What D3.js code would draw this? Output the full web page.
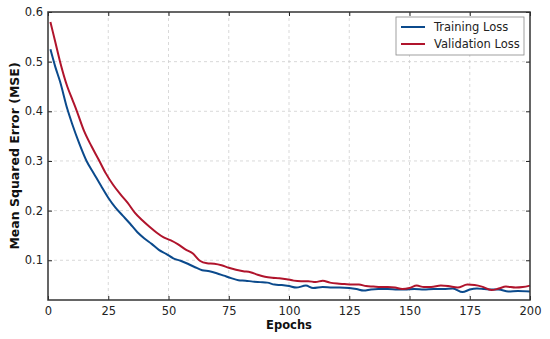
<!DOCTYPE html>
<html>
<head>
<meta charset="utf-8">
<script src="https://cdn.jsdelivr.net/npm/d3@7"></script>
<style>
  html, body { margin: 0; padding: 0; background: #fff; }
  text { font-family: "DejaVu Sans", sans-serif; }
</style>
</head>
<body>
<div id="chart"></div>
<script>
const trainEpochs = [1, 3, 5, 8, 10, 13, 16, 19, 22, 25, 28, 31, 34, 37, 40, 43, 46, 49, 52, 55, 58, 61, 64, 67, 70, 73, 76, 79, 82, 85, 88, 91, 94, 97, 100, 103, 107, 110, 114, 118, 121, 125, 128, 131, 134, 137, 141, 145, 148, 152, 156, 160, 164, 168, 172, 175, 178, 181, 184, 187, 191, 195, 200];
const trainLoss = [0.525, 0.49, 0.46, 0.405, 0.375, 0.335, 0.30, 0.275, 0.25, 0.226, 0.206, 0.19, 0.174, 0.157, 0.144, 0.133, 0.121, 0.113, 0.104, 0.099, 0.093, 0.086, 0.080, 0.078, 0.074, 0.069, 0.064, 0.060, 0.059, 0.057, 0.056, 0.055, 0.051, 0.050, 0.048, 0.045, 0.049, 0.044, 0.046, 0.045, 0.045, 0.044, 0.042, 0.039, 0.041, 0.042, 0.042, 0.041, 0.041, 0.042, 0.041, 0.042, 0.042, 0.043, 0.036, 0.041, 0.043, 0.042, 0.041, 0.041, 0.037, 0.038, 0.037];

const valEpochs = [1, 3, 5, 8, 10, 12, 15, 18, 21, 24, 27, 30, 33, 36, 39, 42, 45, 48, 51, 54, 57, 60, 63, 66, 69, 72, 75, 78, 81, 84, 87, 90, 93, 96, 99, 102, 105, 108, 111, 114, 117, 120, 123, 126, 129, 132, 135, 138, 141, 144, 147, 150, 153, 156, 159, 163, 166, 170, 174, 177, 180, 184, 187, 190, 194, 197, 200];
const valLoss = [0.58, 0.54, 0.50, 0.45, 0.425, 0.40, 0.36, 0.33, 0.303, 0.275, 0.252, 0.233, 0.216, 0.196, 0.181, 0.168, 0.156, 0.146, 0.14, 0.132, 0.122, 0.114, 0.099, 0.094, 0.093, 0.090, 0.085, 0.081, 0.078, 0.076, 0.071, 0.067, 0.065, 0.064, 0.062, 0.059, 0.058, 0.058, 0.056, 0.059, 0.055, 0.053, 0.052, 0.051, 0.051, 0.048, 0.047, 0.046, 0.046, 0.045, 0.042, 0.044, 0.049, 0.046, 0.046, 0.049, 0.048, 0.045, 0.051, 0.050, 0.047, 0.040, 0.043, 0.047, 0.045, 0.046, 0.049];

const xTicks = [0, 25, 50, 75, 100, 125, 150, 175, 200];
const yTicks = [0.1, 0.2, 0.3, 0.4, 0.5, 0.6];

const seriesNames = ["Training Loss", "Validation Loss"];
const seriesColors = ["#0b4a8c", "#b0142c"];

const width = 550, height = 339;
const margin = { left: 48, right: 20, top: 12, bottom: 39 };

const svg = d3.select("#chart").append("svg")
    .attr("width", width)
    .attr("height", height);

const x = d3.scaleLinear().domain([0, 200]).range([margin.left, width - margin.right]);
const y = d3.scaleLinear().domain([0.02, 0.6]).range([height - margin.bottom, margin.top]);

// grid
const grid = svg.append("g");
grid.selectAll(".gx").data(xTicks.slice(1, -1)).enter().append("line")
    .attr("x1", d => x(d)).attr("x2", d => x(d))
    .attr("y1", y.range()[1]).attr("y2", y.range()[0])
    .attr("stroke", "#cfcfcf").attr("stroke-width", 0.8).attr("stroke-dasharray", "3,3");
grid.selectAll(".gy").data(yTicks.slice(0, -1)).enter().append("line")
    .attr("x1", x.range()[0]).attr("x2", x.range()[1])
    .attr("y1", d => y(d)).attr("y2", d => y(d))
    .attr("stroke", "#cfcfcf").attr("stroke-width", 0.8).attr("stroke-dasharray", "3,3");

// lines
const line = d3.line().curve(d3.curveMonotoneX).x(d => x(d[0])).y(d => y(d[1]));
const trainData = trainEpochs.map((e, i) => [e, trainLoss[i]]);
const valData = valEpochs.map((e, i) => [e, valLoss[i]]);

svg.append("path").datum(trainData)
    .attr("d", line).attr("fill", "none")
    .attr("stroke", seriesColors[0]).attr("stroke-width", 2);
svg.append("path").datum(valData)
    .attr("d", line).attr("fill", "none")
    .attr("stroke", seriesColors[1]).attr("stroke-width", 2);

// axes with inward ticks on all four sides
const tickLen = 4;
const fmtY = d3.format(".1f");
svg.append("g").attr("transform", `translate(0,${y.range()[0]})`)
    .call(d3.axisBottom(x).tickValues(xTicks).tickSize(-tickLen).tickPadding(7))
    .call(g => g.select(".domain").remove());
svg.append("g").attr("transform", `translate(0,${y.range()[1]})`)
    .call(d3.axisTop(x).tickValues(xTicks).tickSize(-tickLen).tickFormat(""))
    .call(g => g.select(".domain").remove());
svg.append("g").attr("transform", `translate(${x.range()[0]},0)`)
    .call(d3.axisLeft(y).tickValues(yTicks).tickFormat(fmtY).tickSize(-tickLen).tickPadding(5))
    .call(g => g.select(".domain").remove());
svg.append("g").attr("transform", `translate(${x.range()[1]},0)`)
    .call(d3.axisRight(y).tickValues(yTicks).tickSize(-tickLen).tickFormat(""))
    .call(g => g.select(".domain").remove());

svg.selectAll(".tick line").attr("stroke", "#222").attr("stroke-width", 1);
svg.selectAll(".tick text").attr("font-size", 11.5).attr("fill", "#222")
    .style("font-family", "'DejaVu Sans', sans-serif");

// frame
svg.append("rect")
    .attr("x", x.range()[0]).attr("y", y.range()[1])
    .attr("width", x.range()[1] - x.range()[0])
    .attr("height", y.range()[0] - y.range()[1])
    .attr("fill", "none").attr("stroke", "#333").attr("stroke-width", 1.5);

// axis labels
svg.append("text")
    .attr("x", (x.range()[0] + x.range()[1]) / 2).attr("y", 329)
    .attr("text-anchor", "middle").attr("font-size", 11.5).attr("font-weight", "bold")
    .attr("fill", "#111").text("Epochs");
svg.append("text")
    .attr("transform", `translate(19,${(y.range()[0] + y.range()[1]) / 2}) rotate(-90)`)
    .attr("text-anchor", "middle").attr("font-size", 12.5).attr("font-weight", "bold")
    .attr("fill", "#111").text("Mean Squared Error (MSE)");

// legend
const legend = svg.append("g").attr("transform", "translate(396,17)");
legend.append("rect")
    .attr("width", 128).attr("height", 38)
    .attr("fill", "#fff").attr("stroke", "#888").attr("stroke-width", 0.8);
seriesNames.forEach((name, i) => {
    const ly = 10 + i * 17;
    legend.append("line")
        .attr("x1", 5).attr("x2", 29).attr("y1", ly).attr("y2", ly)
        .attr("stroke", seriesColors[i]).attr("stroke-width", 2);
    legend.append("text")
        .attr("x", 38).attr("y", ly + 4)
        .attr("font-size", 11.5).attr("fill", "#222").text(name);
});
</script>
</body>
</html>
